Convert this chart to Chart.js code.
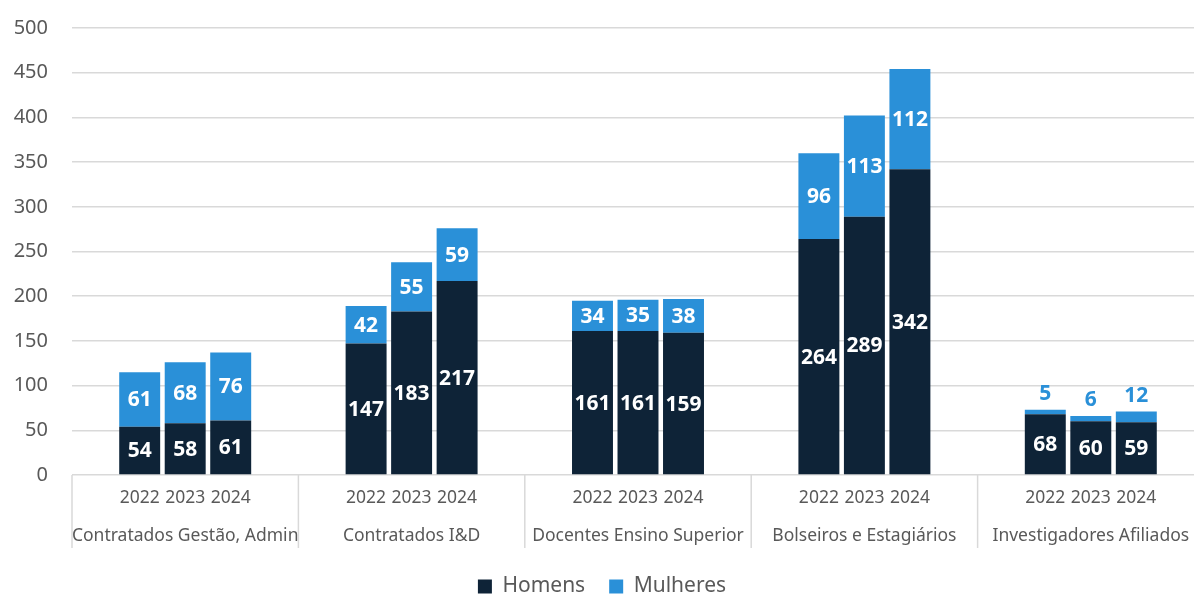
<!DOCTYPE html>
<html>
<head>
<meta charset="utf-8">
<script src="https://cdn.jsdelivr.net/npm/chart.js@4.4.1/dist/chart.umd.min.js"></script>
<style>
  html, body { margin: 0; padding: 0; overflow: hidden; background: #fff; }
  #wrap { width: 1210px; height: 607px; }
</style>
</head>
<body>
<div id="wrap"><canvas id="chart"></canvas></div>
<script>
const categories = ['Contratados Gestão, Admin', 'Contratados I&D', 'Docentes Ensino Superior', 'Bolseiros e Estagiários', 'Investigadores Afiliados'];
const years = ['2022', '2023', '2024'];

const homens2022 = [54, 147, 161, 264, 68];
const homens2023 = [58, 183, 161, 289, 60];
const homens2024 = [61, 217, 159, 342, 59];
const mulheres2022 = [61, 42, 34, 96, 5];
const mulheres2023 = [68, 55, 35, 113, 6];
const mulheres2024 = [76, 59, 38, 112, 12];

const yTicks = [0, 50, 100, 150, 200, 250, 300, 350, 400, 450, 500];

const corHomens = '#0E2337';
const corMulheres = '#2A90D8';
const cinza = '#595959';
const fonte = '"Noto Sans", sans-serif';

const homens = [homens2022, homens2023, homens2024];
const mulheres = [mulheres2022, mulheres2023, mulheres2024];

const datasets = [];
years.forEach((ano, k) => {
    datasets.push({ label: 'Homens', stack: ano, data: homens[k], backgroundColor: corHomens });
    datasets.push({ label: 'Mulheres', stack: ano, data: mulheres[k], backgroundColor: corMulheres });
});

// separadores, anos, categorias e valores
const extras = {
    id: 'extras',
    afterDatasetsDraw(chart) {
        const ctx = chart.ctx;
        const x = chart.scales.x;
        const area = chart.chartArea;

        ctx.save();
        ctx.strokeStyle = '#D9D9D9';
        ctx.lineWidth = 1.5;
        for (let i = 0; i <= categories.length; i++) {
            const px = x.getPixelForValue(i - 0.5);
            ctx.beginPath();
            ctx.moveTo(px, area.bottom);
            ctx.lineTo(px, area.bottom + 73);
            ctx.stroke();
        }

        ctx.fillStyle = cinza;
        ctx.textAlign = 'center';
        ctx.textBaseline = 'middle';

        // anos por baixo de cada barra
        ctx.font = '17.5px ' + fonte;
        years.forEach((ano, k) => {
            chart.getDatasetMeta(k * 2).data.forEach(bar => {
                ctx.fillText(ano, bar.x, area.bottom + 23);
            });
        });

        // nomes das categorias
        categories.forEach((cat, i) => {
            ctx.fillText(cat, x.getPixelForValue(i), area.bottom + 61);
        });

        // valores
        ctx.font = 'bold 21px ' + fonte;
        chart.data.datasets.forEach((ds, d) => {
            chart.getDatasetMeta(d).data.forEach((bar, i) => {
                const h = bar.base - bar.y;
                if (h > 22) {
                    ctx.fillStyle = '#FFFFFF';
                    ctx.fillText(ds.data[i], bar.x, (bar.y + bar.base) / 2 + 1);
                } else {
                    ctx.fillStyle = ds.backgroundColor;
                    ctx.fillText(ds.data[i], bar.x, bar.y - 16);
                }
            });
        });
        ctx.restore();
    }
};

new Chart(document.getElementById('chart'), {
    type: 'bar',
    data: { labels: categories, datasets: datasets },
    plugins: [extras],
    options: {
        responsive: true,
        maintainAspectRatio: false,
        animation: false,
        layout: { padding: { top: 28, right: 6, left: 0, bottom: 0 } },
        datasets: { bar: { categoryPercentage: 0.603, barPercentage: 0.9 } },
        scales: {
            x: {
                stacked: true,
                grid: { display: false },
                border: { display: false },
                ticks: { display: false },
                afterFit(scale) {
                    scale.height = 77;
                    scale.paddingLeft = 0;
                    scale.paddingRight = 0;
                }
            },
            y: {
                stacked: true,
                min: 0, max: 500,
                afterBuildTicks(scale) { scale.ticks = yTicks.map(v => ({ value: v })); },
                grid: { color: '#D9D9D9', lineWidth: 1.5, drawTicks: false },
                border: { display: false },
                ticks: {
                    padding: 24,
                    color: cinza,
                    font: { family: fonte, size: 20 }
                },
                afterFit(scale) {
                    scale.width = 72;
                    scale.paddingTop = 0;
                    scale.paddingBottom = 0;
                }
            }
        },
        plugins: {
            tooltip: { enabled: false },
            legend: {
                position: 'bottom',
                labels: {
                    filter: item => item.datasetIndex < 2,
                    boxWidth: 14, boxHeight: 14,
                    padding: 24,
                    color: cinza,
                    font: { family: fonte, size: 21 }
                }
            }
        }
    }
});
</script>
</body>
</html>
